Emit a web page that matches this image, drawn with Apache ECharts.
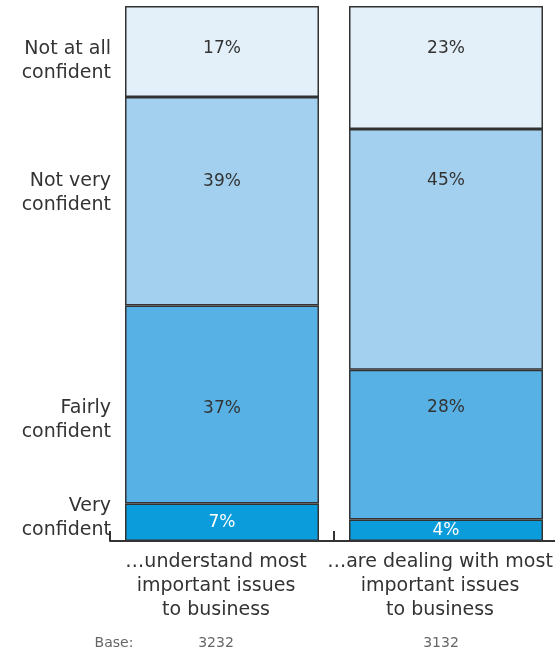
<!DOCTYPE html>
<html>
<head>
<meta charset="utf-8">
<script src="https://cdn.jsdelivr.net/npm/echarts@6/dist/echarts.min.js"></script>
<style>html,body{margin:0;padding:0;background:#fff}#c{width:555px;height:652px}</style>
</head>
<body>
<div id="c"></div>
<script>
var categories = ['…understand most\nimportant issues\nto business', '…are dealing with most\nimportant issues\nto business'];
var seriesNames = ['Very confident', 'Fairly confident', 'Not very confident', 'Not at all confident'];
var sideLabels = ['Very\nconfident', 'Fairly\nconfident', 'Not very\nconfident', 'Not at all\nconfident'];
var veryConfident = [7, 4];
var fairlyConfident = [37, 28];
var notVeryConfident = [39, 45];
var notAtAllConfident = [17, 23];
var baseLabel = 'Base:';
var baseValues = ['3232', '3132'];

var FONT = 'DejaVu Sans';
var colors = ['#0b9ddb', '#57b1e4', '#a2d0ee', '#e3f0f9'];
var values = [veryConfident, fairlyConfident, notVeryConfident, notAtAllConfident];
// label offset (px from top of segment) per segment per bar; null = centred
var labelOffsets = [[null, null], [103, 38], [85, 52], [43, 43]];

var chart = echarts.init(document.getElementById('c'), null, {renderer: 'canvas'});

var series = values.map(function (arr, si) {
  return {
    name: seriesNames[si],
    type: 'bar',
    stack: 'total',
    barWidth: 194,
    itemStyle: {color: colors[si], borderColor: '#333', borderWidth: 1.5},
    data: arr.map(function (v, bi) {
      var off = labelOffsets[si][bi];
      return {
        value: v,
        label: {
          show: true,
          formatter: '{c}%',
          position: off === null ? 'inside' : ['50%', off],
          align: 'center',
          verticalAlign: 'middle',
          color: si === 0 ? '#ffffff' : '#333333',
          fontSize: 17,
          fontFamily: FONT
        }
      };
    })
  };
});

var side = [[506, 530], [408, 432], [181, 205], [49, 73]];
var graphics = [];
sideLabels.forEach(function (t, i) {
  var lines = t.split('\n');
  lines.forEach(function (ln, j) {
    graphics.push({
      type: 'text', x: 111, y: side[i][j],
      style: {text: ln, fill: '#333', font: '19px "' + FONT + '"', textAlign: 'right', textVerticalAlign: 'middle'}
    });
  });
});

chart.setOption({
  animation: false,
  grid: {left: 110, width: 448, top: 6, bottom: 111, containLabel: false, outerBoundsMode: 'none'},
  xAxis: {
    type: 'category',
    data: categories,
    axisLine: {lineStyle: {color: '#333', width: 2}},
    axisTick: {show: true, inside: true, length: 10, lineStyle: {color: '#333', width: 2}},
    axisLabel: {color: '#333', fontSize: 19, lineHeight: 24, fontFamily: FONT, margin: 9, interval: 0, padding: [0, 12, 0, 0]}
  },
  yAxis: {type: 'value', min: 0, max: 100, show: false},
  series: series,
  graphic: graphics.concat([
    {type: 'text', x: 114, y: 643, style: {text: baseLabel, fill: '#666', font: '14px "' + FONT + '"', textAlign: 'center', textVerticalAlign: 'middle'}},
    {type: 'text', x: 216, y: 643, style: {text: baseValues[0], fill: '#666', font: '14px "' + FONT + '"', textAlign: 'center', textVerticalAlign: 'middle'}},
    {type: 'text', x: 441, y: 643, style: {text: baseValues[1], fill: '#666', font: '14px "' + FONT + '"', textAlign: 'center', textVerticalAlign: 'middle'}}
  ])
});
</script>
</body>
</html>
